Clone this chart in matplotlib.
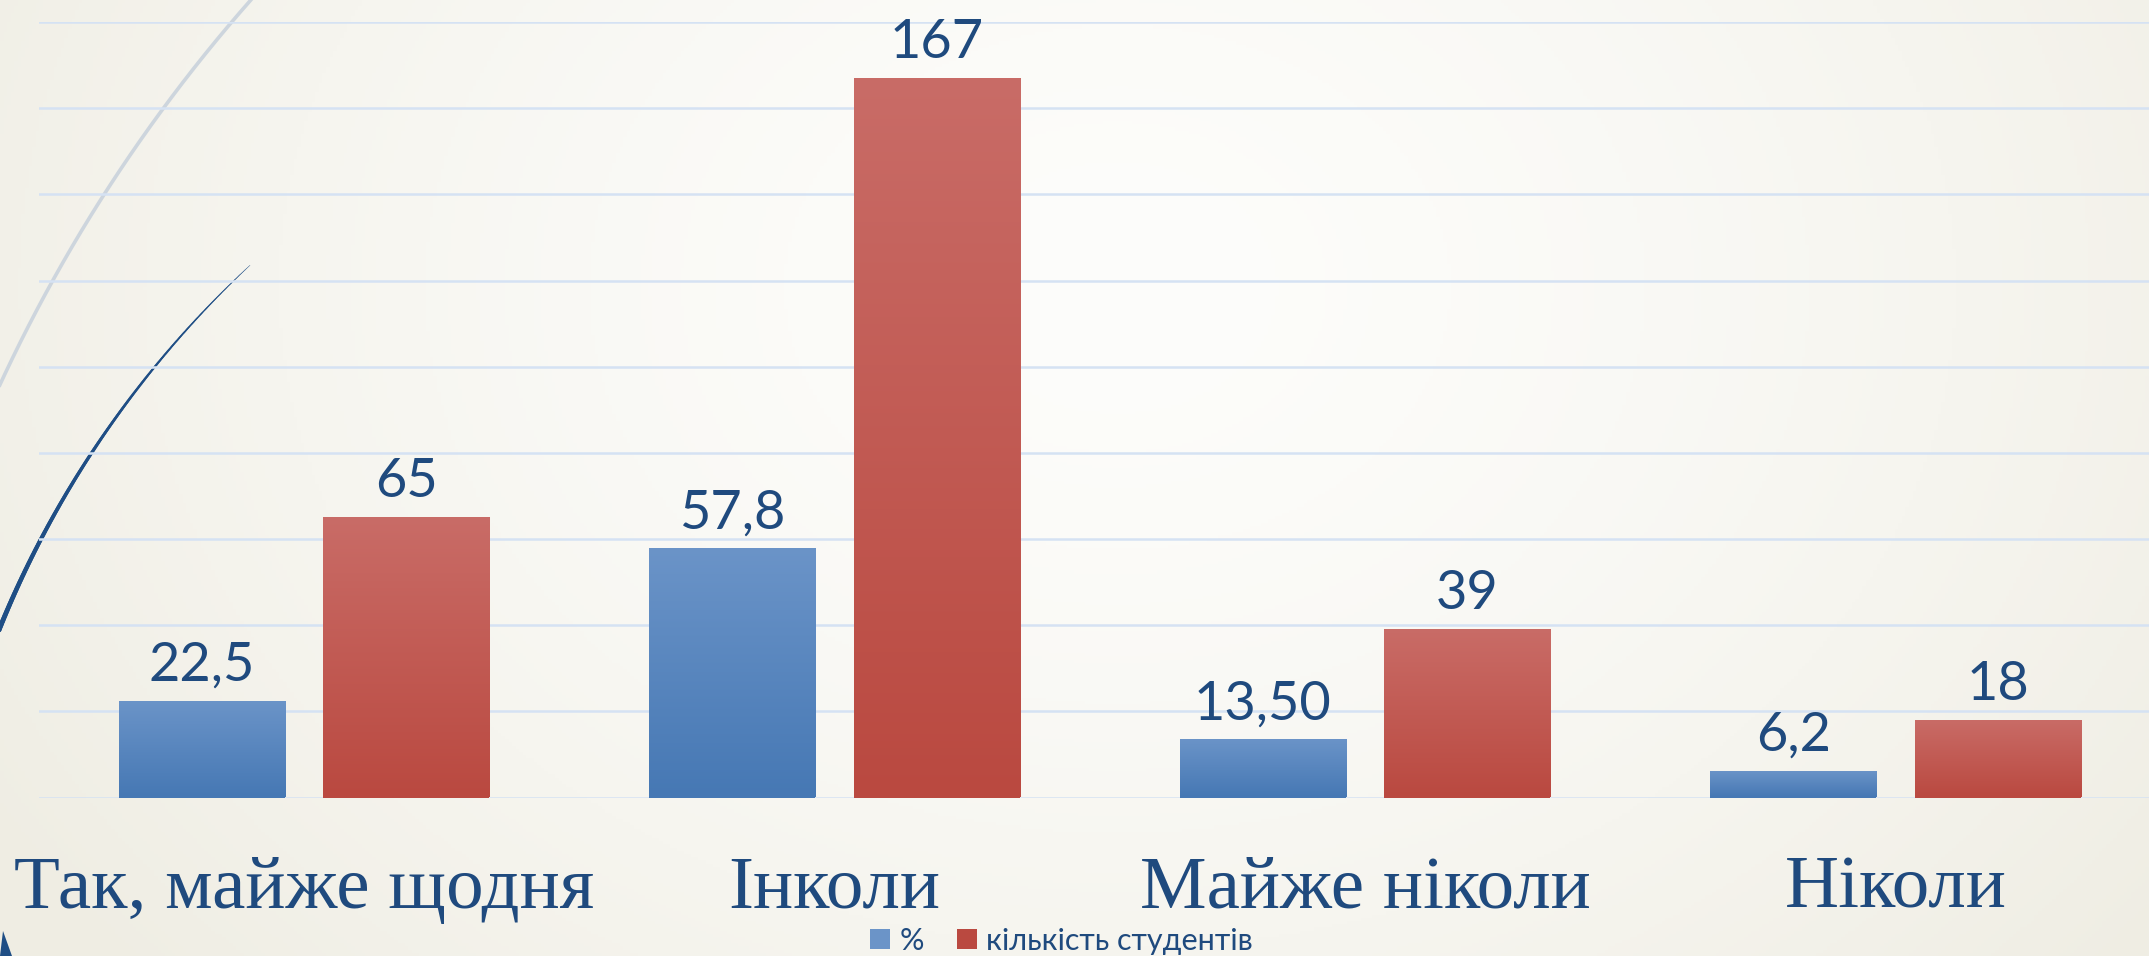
import numpy as np
import matplotlib
matplotlib.use("Agg")
import matplotlib.pyplot as plt
from matplotlib.colors import LinearSegmentedColormap, to_rgb
from matplotlib.patches import Patch, Polygon
from matplotlib.collections import LineCollection
from matplotlib.transforms import blended_transform_factory

categories = ["Так, майже щодня", "Інколи", "Майже ніколи", "Ніколи"]
pct = [22.5, 57.8, 13.5, 6.2]
students = [65, 167, 39, 18]
pct_labels = ["22,5", "57,8", "13,50", "6,2"]
students_labels = ["65", "167", "39", "18"]
series_names = ["%", "кількість студентів"]

W, H = 2149, 956
text_col = "#1f4a7e"
blue_top, blue_bot = "#6b94c8", "#4678b4"
red_top, red_bot = "#c96c67", "#ba4940"

fig = plt.figure(figsize=(W / 100, H / 100), dpi=100)

# background
bg = fig.add_axes([0, 0, 1, 1], zorder=0)
yy, xx = np.mgrid[0:1:300j, 0:1:600j]
t = np.clip(np.sqrt(((xx - 0.52) / 0.62) ** 2 + ((yy - 0.3) / 1.1) ** 2), 0, 1)
c0 = np.array(to_rgb("#fdfdfb"))
c1 = np.array(to_rgb("#efede3"))
img = c0 + (c1 - c0) * t[..., None] ** 1.5
bg.imshow(img, extent=[0, 1, 0, 1], aspect="auto")
bg.axis("off")

# decorative arcs (pixel coords)
deco = fig.add_axes([0, 0, 1, 1], zorder=0.5)
deco.set_xlim(0, W)
deco.set_ylim(H, 0)
deco.axis("off")
deco.patch.set_alpha(0)

th = np.radians(np.linspace(221.6, 200, 200))
gx = 1439 + 1585 * np.cos(th)
gy = 1049 + 1585 * np.sin(th)
deco.plot(gx, gy, color="#cdd5dd", lw=2.6, solid_capstyle="butt")

th = np.radians(np.linspace(227.1, 198, 300))
bx = 943 + 1018 * np.cos(th)
by = 1011 + 1018 * np.sin(th)
pts = np.column_stack([bx, by]).reshape(-1, 1, 2)
segs = np.concatenate([pts[:-1], pts[1:]], axis=1)
s = np.linspace(0, 1, len(segs))
lc = LineCollection(segs, colors="#1f4e85", linewidths=0.3 + 3.6 * s ** 0.8, capstyle="round")
deco.add_collection(lc)
deco.add_patch(Polygon([[0, 956], [3, 931], [12, 956]], closed=True, color="#1f4e85", lw=0))

# chart (slightly wider than the figure, as in the original slide)
ax = fig.add_axes([38.75 / W, 1 - 797.5 / H, 2122 / W, (797.5 - 22) / H], zorder=1)
ax.patch.set_alpha(0)
x = np.arange(len(categories))
bw = 0.313
off = 0.1925
b1 = ax.bar(x - off, pct, bw, color=blue_bot, zorder=2)
b2 = ax.bar(x + off, students, bw, color=red_bot, zorder=2)

grad = np.linspace(0, 1, 256).reshape(-1, 1)
for bars, top, bot in [(b1, blue_top, blue_bot), (b2, red_top, red_bot)]:
    cmap = LinearSegmentedColormap.from_list("g", [top, bot])
    for p in bars:
        x0, w, h = p.get_x(), p.get_width(), p.get_height()
        im = ax.imshow(grad, extent=[x0, x0 + w, 0, h], aspect="auto", cmap=cmap,
                       origin="upper", zorder=2.1)
        im.set_clip_path(p)

ax.set_xlim(-0.5, 3.5)
ax.set_ylim(0, 180)
ax.set_yticks(np.arange(0, 181, 20))
ax.yaxis.grid(True, color="#d5e2f3", lw=1.8)
ax.set_axisbelow(True)
ax.tick_params(left=False, bottom=False, labelleft=False, labelbottom=False)
for sp in ax.spines.values():
    sp.set_visible(False)

lab_font = dict(family=["Lato", "DejaVu Sans"], weight="normal", size=39, color=text_col)
ax.bar_label(b1, labels=pct_labels, padding=8, **lab_font)
ax.bar_label(b2, labels=students_labels, padding=8, **lab_font)

trans = blended_transform_factory(ax.transData, fig.transFigure)
for i, c in enumerate(categories):
    ax.text(i, 1 - 908 / H, c, transform=trans, ha="center", va="baseline",
            family="Liberation Serif", size=54, color=text_col)

handles = [Patch(facecolor=blue_top, edgecolor="none"), Patch(facecolor=red_bot, edgecolor="none")]
fig.legend(handles, series_names, loc="center", bbox_to_anchor=(0.494, 1 - 941 / H), ncol=2,
           frameon=False, handlelength=0.65, handleheight=0.65, handletextpad=0.3,
           columnspacing=1.1, borderpad=0,
           prop=dict(family=["Lato", "DejaVu Sans"], weight="normal", size=22), labelcolor=text_col)

fig.savefig("out.png", dpi=100)
